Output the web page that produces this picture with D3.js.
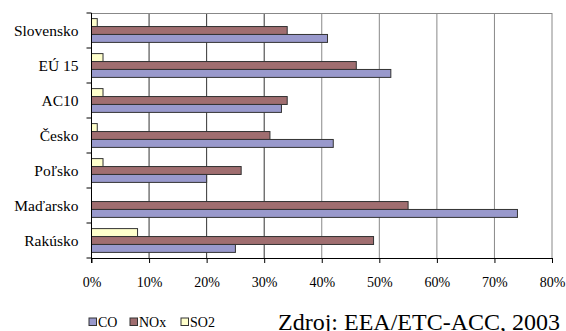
<!DOCTYPE html>
<html><head><meta charset="utf-8">
<script src="https://cdn.jsdelivr.net/npm/d3@7"></script>
<style>body{margin:0;background:#fff}svg{display:block}</style>
</head><body>
<svg id="c" width="566" height="331"></svg>
<script>
const categories = ["Slovensko","EÚ 15","AC10","Česko","Poľsko","Maďarsko","Rakúsko"];
const seriesNames = ["CO","NOx","SO2"];
const coValues  = [41, 52, 33, 42, 20, 74, 25];
const noxValues = [34, 46, 34, 31, 26, 55, 49];
const so2Values = [1, 2, 2, 1, 2, 0, 8];
const xTicks = [0,10,20,30,40,50,60,70,80];
const colors = {CO:"#9999cc", NOx:"#a06e70", SO2:"#ffffcc"};
const sourceText = "Zdroj: EEA/ETC-ACC, 2003";
const FONT = '"Liberation Serif"';

const svg = d3.select("#c");
const L = 91.5, R = 552, T = 13, B = 258;
const x = d3.scaleLinear().domain([0,80]).range([L,R]);
const y = d3.scaleBand().domain(categories).range([T,B]).paddingInner(0.32).paddingOuter(0.16);
const sub = d3.scaleBand().domain(["SO2","NOx","CO"]).range([0,y.bandwidth()]);

svg.append("g").selectAll("line").data(xTicks.slice(1)).join("line")
  .attr("x1",d=>x(d)).attr("x2",d=>x(d)).attr("y1",T).attr("y2",B)
  .attr("stroke",d=>d<=30?"#333":"#888").attr("stroke-width",1);
svg.append("line").attr("x1",L).attr("x2",R).attr("y1",T+0.5).attr("y2",T+0.5).attr("stroke","#888");

const data = categories.map((c,i)=>({cat:c, CO:coValues[i], NOx:noxValues[i], SO2:so2Values[i]}));
const g = svg.append("g");
data.forEach(d=>{
  ["SO2","NOx","CO"].forEach(s=>{
    if (d[s] <= 0) return;
    g.append("rect")
      .attr("x",x(0)).attr("y",y(d.cat)+sub(s))
      .attr("width",x(d[s])-x(0)).attr("height",sub.bandwidth())
      .attr("fill",colors[s]).attr("stroke","#333").attr("stroke-width",1);
  });
});

const xa = svg.append("g").attr("transform",`translate(0,${B})`)
  .call(d3.axisBottom(x).tickValues(xTicks).tickFormat(d=>d+"%").tickSizeInner(5).tickSizeOuter(0).tickPadding(14));
xa.select(".domain").attr("stroke","#000");
xa.selectAll("text").style("font-family",FONT).style("font-size","14px").attr("fill","#000");

const ya = svg.append("g").attr("transform",`translate(${L},0)`);
ya.append("line").attr("x1",0).attr("x2",0).attr("y1",T).attr("y2",B+5).attr("stroke","#000");
const bounds = d3.range(categories.length+1).map(i=>T+i*(B-T)/categories.length);
ya.selectAll("line.t").data(bounds).join("line").attr("class","t")
  .attr("x1",-5).attr("x2",0).attr("y1",d=>d).attr("y2",d=>d).attr("stroke","#000");
ya.selectAll("text").data(categories).join("text")
  .attr("x",-13).attr("y",d=>y(d)+y.bandwidth()/2).attr("dy","0.35em")
  .attr("text-anchor","end").style("font-family",FONT).style("font-size","15.5px").text(d=>d);

const leg = svg.append("g").attr("transform","translate(89,322)");
const legX = [0, 41, 92];
seriesNames.forEach((s,i)=>{
  leg.append("rect").attr("x",legX[i]).attr("y",-4).attr("width",7.5).attr("height",7.5)
    .attr("fill",colors[s]).attr("stroke","#333");
  leg.append("text").attr("x",legX[i]+9).attr("y",0).attr("dy","0.35em")
    .style("font-family",FONT).style("font-size","14px").text(s);
});

svg.append("text").attr("x",278).attr("y",330).style("font-family",FONT).style("font-size","24px").text(sourceText);
</script>
</body></html>
